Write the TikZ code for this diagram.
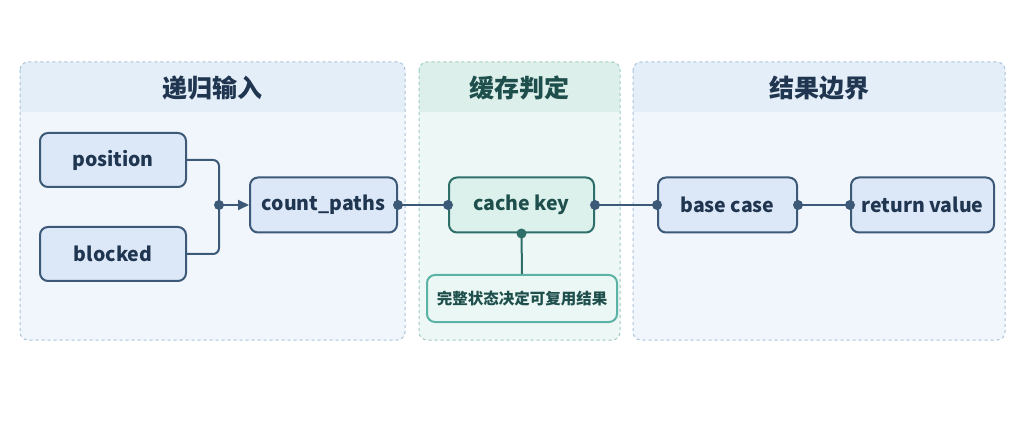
\documentclass[tikz,border=0pt]{standalone}
\usepackage{fontspec}
\usetikzlibrary{arrows.meta}
\setmainfont{Noto Sans CJK SC}
\begin{document}
\begin{tikzpicture}[x=1pt,y=-1pt,
  panel/.style={draw=#1, dashed, rounded corners=8pt, line width=1pt},
  node/.style={draw=ndb, fill=ndf, rounded corners=8pt, line width=2pt, text=ndt, font=\fontsize{19.5}{23}\selectfont\bfseries, anchor=center},
  tnode/.style={draw=tdb, fill=tdf, rounded corners=8pt, line width=2pt, text=tdt, font=\fontsize{19.5}{23}\selectfont\bfseries},
  title/.style={font=\fontsize{25}{28}\selectfont\bfseries},
  conn/.style={draw=ndb, line width=2pt},
  dot/.style={circle, fill=#1, inner sep=0pt, minimum size=10pt}]
\definecolor{ndb}{HTML}{3C5A78}\definecolor{ndf}{HTML}{DCE8F7}\definecolor{ndt}{HTML}{1F3550}
\definecolor{tdb}{HTML}{2E6F6A}\definecolor{tdf}{HTML}{DDF1EC}\definecolor{tdt}{HTML}{1E4F4C}
\definecolor{pb}{HTML}{A9C2D8}\definecolor{pf}{HTML}{F1F6FC}\definecolor{ph}{HTML}{E4EEF8}
\definecolor{tb}{HTML}{9CCBC2}\definecolor{tf}{HTML}{EDF7F5}\definecolor{th}{HTML}{DDEFEA}
\definecolor{nb}{HTML}{5BB3A5}
\fill[white] (0,0) rectangle (1024,427);
\useasboundingbox (0,0) rectangle (1024,427);
% panels
\begin{scope}
\fill[pf,rounded corners=8pt] (20,62) rectangle (405,340);
\fill[ph,rounded corners=8pt] (20,62) rectangle (405,112);
\fill[ph] (20,100) rectangle (405,112);
\draw[panel=pb] (20,62) rectangle (405,340);
\fill[tf,rounded corners=8pt] (419,62) rectangle (620,340);
\fill[th,rounded corners=8pt] (419,62) rectangle (620,112);
\fill[th] (419,100) rectangle (620,112);
\draw[panel=tb] (419,62) rectangle (620,340);
\fill[pf,rounded corners=8pt] (633,62) rectangle (1005,340);
\fill[ph,rounded corners=8pt] (633,62) rectangle (1005,112);
\fill[ph] (633,100) rectangle (1005,112);
\draw[panel=pb] (633,62) rectangle (1005,340);
\end{scope}
\node[title,text=ndt] (t1) at (212,88) {递归输入};
\node[title,text=tdt] (t2) at (519,88) {缓存判定};
\node[title,text=ndt] (t3) at (819,88) {结果边界};
% nodes
\node[node,minimum width=146pt,minimum height=54pt] (pos) at (113,160) {position};
\node[node,minimum width=146pt,minimum height=54pt] (blk) at (113,254) {blocked};
\node[node,minimum width=147pt,minimum height=55pt] (cp) at (323.5,205) {count\_paths};
\node[tnode,minimum width=145pt,minimum height=55pt] (ck) at (521.5,205) {cache key};
\node[node,minimum width=139pt,minimum height=55pt] (bc) at (727.5,205) {base case};
\node[node,minimum width=143pt,minimum height=55pt] (rv) at (922.5,205) {return value};
\node[draw=nb, fill=tdf!60!white, rounded corners=8pt, line width=2pt, text=tdt, font=\fontsize{15.5}{18}\selectfont\bfseries, minimum width=190pt, minimum height=47pt] (note) at (522,298.5) {完整状态决定可复用结果};
\coordinate (j) at (219,205);
% connectors
\draw[conn,rounded corners=6pt] (pos.east) -- (219,160) -- (j);
\draw[conn,rounded corners=6pt] (blk.east) -- (219,254) -- (j);
\draw[conn,-{Triangle[length=11pt,width=10pt]}] (j) -- (cp.west);
\draw[conn] (cp.east) -- (ck.west);
\draw[conn] (ck.east) -- (bc.west);
\draw[conn] (bc.east) -- (rv.west);
\draw[conn,draw=tdb] (ck.south) -- (note.north);
\node[dot=ndb] at (j) {};
\node[dot=ndb] at (cp.east) {};
\node[dot=ndb] at (ck.west) {};
\node[dot=ndb] at (ck.east) {};
\node[dot=tdb] at (ck.south) {};
\node[dot=ndb] at (bc.west) {};
\node[dot=ndb] at (bc.east) {};
\node[dot=ndb] at (rv.west) {};
\end{tikzpicture}
\end{document}
